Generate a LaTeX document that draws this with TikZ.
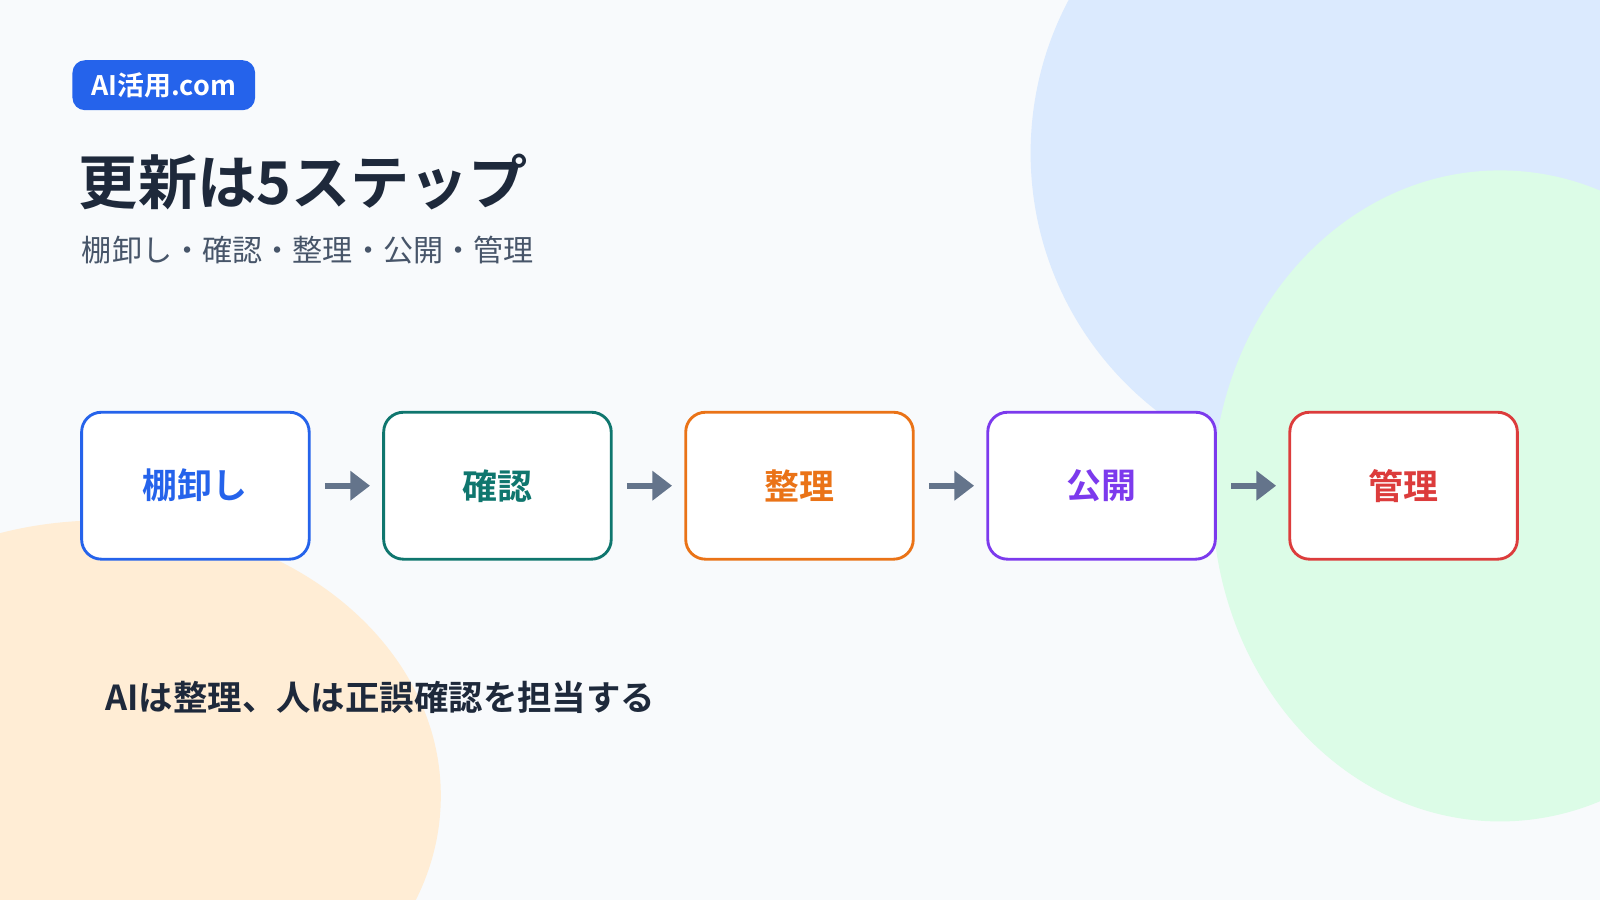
\documentclass[tikz,border=0pt]{standalone}
\usepackage{fontspec}
\setmainfont{Noto Sans CJK JP}
\newfontfamily\jpb{Noto Sans CJK JP}[BoldFont={* Bold}]
\definecolor{bg}{HTML}{F8FAFC}
\definecolor{cblue}{HTML}{DBEAFE}
\definecolor{cgreen}{HTML}{DCFCE7}
\definecolor{corange}{HTML}{FFEDD5}
\definecolor{sA}{HTML}{2563EB}
\definecolor{sB}{HTML}{0F766E}
\definecolor{sC}{HTML}{EA7317}
\definecolor{sD}{HTML}{7C3AED}
\definecolor{sE}{HTML}{DC3C3C}
\definecolor{dark}{HTML}{1E293B}
\definecolor{sub}{HTML}{475569}
\definecolor{arr}{HTML}{64748B}
\begin{document}
\begin{tikzpicture}[x=0.02cm,y=-0.02cm,
 step/.style={draw=#1,text=#1,line width=1.6pt,fill=white,rounded corners=11pt,minimum width=223*0.02cm,minimum height=144*0.02cm,font=\jpb\fontsize{19.5}{22}\selectfont\bfseries},
 ar/.style={draw=arr,line width=3.5pt,-{Triangle[length=11pt,width=16pt]}}]
\usetikzlibrary{arrows.meta}
\useasboundingbox (0,0) rectangle (1568,882);
\fill[bg] (0,0) rectangle (1568,882);
\begin{scope}
\clip (0,0) rectangle (1568,882);
\fill[cblue] (1330,150) circle[radius=320*0.02cm];
\fill[cgreen] (1470,486) ellipse[x radius=282*0.02cm,y radius=319*0.02cm];
\fill[corange] (100,780) ellipse[x radius=332*0.02cm,y radius=270*0.02cm];
\end{scope}
\node[fill=sA,rounded corners=7pt,minimum width=179*0.02cm,minimum height=49*0.02cm,text=white,font=\jpb\fontsize{15}{17}\selectfont\bfseries] (badge) at (160.5,83.5) {AI活用.com};
\node[anchor=west,text=dark,font=\jpb\fontsize{33}{36}\selectfont\bfseries,inner sep=0] (title) at (77,178) {更新は5ステップ};
\node[anchor=west,text=sub,font=\jpb\fontsize{16.8}{19}\selectfont,inner sep=0] (subt) at (80,245) {棚卸し・確認・整理・公開・管理};
\node[step=sA] (a) at (191.5,476) {棚卸し};
\node[step=sB] (b) at (487.5,476) {確認};
\node[step=sC] (c) at (783.5,476) {整理};
\node[step=sD] (d) at (1079.5,476) {公開};
\node[step=sE] (e) at (1375.5,476) {管理};
\foreach \p/\q in {a/b,b/c,c/d,d/e}{\draw[ar] ([xshift=14*0.02cm]\p.east) -- ([xshift=-12*0.02cm]\q.west);}
\node[anchor=west,text=dark,font=\jpb\fontsize{19.2}{21}\selectfont\bfseries,inner sep=0] (foot) at (103,683) {AIは整理、人は正誤確認を担当する};
\end{tikzpicture}
\end{document}
